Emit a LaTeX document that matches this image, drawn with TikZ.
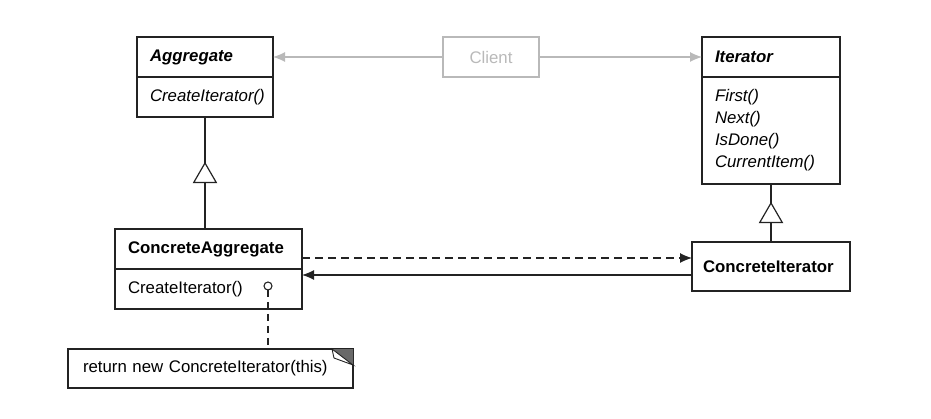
\documentclass[tikz,border=0pt]{standalone}
\usepackage{fontspec}
\setmainfont{Liberation Sans}
\usepackage{tikz}
\usepackage{xcolor}
\usetikzlibrary{shapes.geometric, arrows.meta, positioning}
\definecolor{cLine}{RGB}{35,35,35}
\definecolor{cGray}{RGB}{185,185,185}
\definecolor{cFold}{RGB}{105,105,105}
\newcommand{\umlfont}{\fontsize{16.8pt}{22pt}\selectfont}
\tikzset{
	classhead/.style={rectangle, draw=cLine, line width=1.2pt, minimum height=40pt, inner ysep=0pt, inner xsep=13pt, outer sep=0pt, align=left, text width=#1, font=\umlfont\bfseries},
	classbody/.style={rectangle, draw=cLine, line width=1.2pt, minimum height=40pt, inner ysep=0pt, inner xsep=13pt, outer sep=0pt, align=left, text width=#1, font=\umlfont},
	client/.style   ={rectangle, draw=cGray, line width=1.2pt, minimum width=96pt, minimum height=40pt, outer sep=0pt, text=cGray, font=\umlfont},
	notebox/.style  ={rectangle, draw=cLine, line width=1.2pt, minimum height=39pt, inner ysep=0pt, inner xsep=15pt, outer sep=0pt, align=left, text width=255pt, font=\umlfont},
	% relation styles
	inherit/.style  ={regular polygon, regular polygon sides=3, draw=cLine, line width=1.2pt, fill=white, minimum size=26pt, inner sep=0pt, outer sep=0pt},
	rel/.style      ={line width=1.2pt, cLine},
	assoc/.style    ={-{Latex[length=12pt, width=10pt]}, line width=1.2pt, cLine},
	navig/.style    ={-{Latex[length=12pt, width=10pt]}, line width=1.2pt, cGray},
	lolli/.style    ={circle, draw=cLine, line width=1.1pt, fill=white, minimum size=8pt, inner sep=0pt, outer sep=0pt},
}

\begin{document}
\begin{tikzpicture}[x=1pt, y=-1pt]
	\useasboundingbox (0,0) rectangle (931,419);
	% abstract classes
	\node[classhead=110pt, font=\umlfont\bfseries\itshape] (aggHead) at (205,57) {Aggregate};
	\node[classbody=110pt, font=\umlfont\itshape, below=0pt of aggHead] (aggBody) {CreateIterator()};
	\node[classhead=112pt, font=\umlfont\bfseries\itshape] (itHead) at (771,57) {Iterator};
	\node[classbody=112pt, font=\umlfont\itshape, minimum height=107pt, below=0pt of itHead] (itBody) {First()\\Next()\\IsDone()\\CurrentItem()};
	\node[client] (client) at (491,57) {Client};
	% concrete classes
	\node[classhead=161pt] (caHead) at (208.5,249) {ConcreteAggregate};
	\node[classbody=161pt, below=0pt of caHead] (caBody) {CreateIterator()};
	\node[classhead=136pt, inner xsep=11pt, minimum height=49pt] (ciBox) at (771,266.5) {ConcreteIterator};
	\node[notebox] (note) at (210.5,368.5) {return new ConcreteIterator(this)};
	\node[lolli] (dot) at (268,286) {};
	\node[inherit, anchor=corner 1] (aggTri) at (205,163) {};
	\node[inherit, anchor=corner 1] (itTri) at (771,203) {};

	\draw[navig] (client.west) -- (aggHead.east);
	\draw[navig] (client.east) -- (itHead.west);
	\draw[rel] (aggBody.south) -- (aggTri.corner 1);
	\draw[rel] (aggTri.side 2) -- (aggTri.side 2 |- caHead.north);
	\draw[rel] (itBody.south) -- (itTri.corner 1);
	\draw[rel] (itTri.side 2) -- (itTri.side 2 |- ciBox.north);
	\draw[assoc, dash pattern=on 8pt off 5pt] ([yshift=-9pt]caHead.east) -- ([yshift=8.5pt]ciBox.west);
	\draw[assoc] ([yshift=-8.5pt]ciBox.west) -- ([yshift=14pt]caBody.east);
	\draw[rel, dash pattern=on 7pt off 5pt] (dot.south) -- (dot.south |- note.north);
	% folded corner of the note
	\fill[cFold] ([xshift=-21pt]note.north east) -- (note.north east) -- ([yshift=-16pt]note.north east) -- cycle;
	\filldraw[fill=white, draw=cLine, line width=0.9pt] ([xshift=-21pt]note.north east) -- ([xshift=-19pt, yshift=-9pt]note.north east) -- ([yshift=-16pt]note.north east) -- cycle;
\end{tikzpicture}
\end{document}
